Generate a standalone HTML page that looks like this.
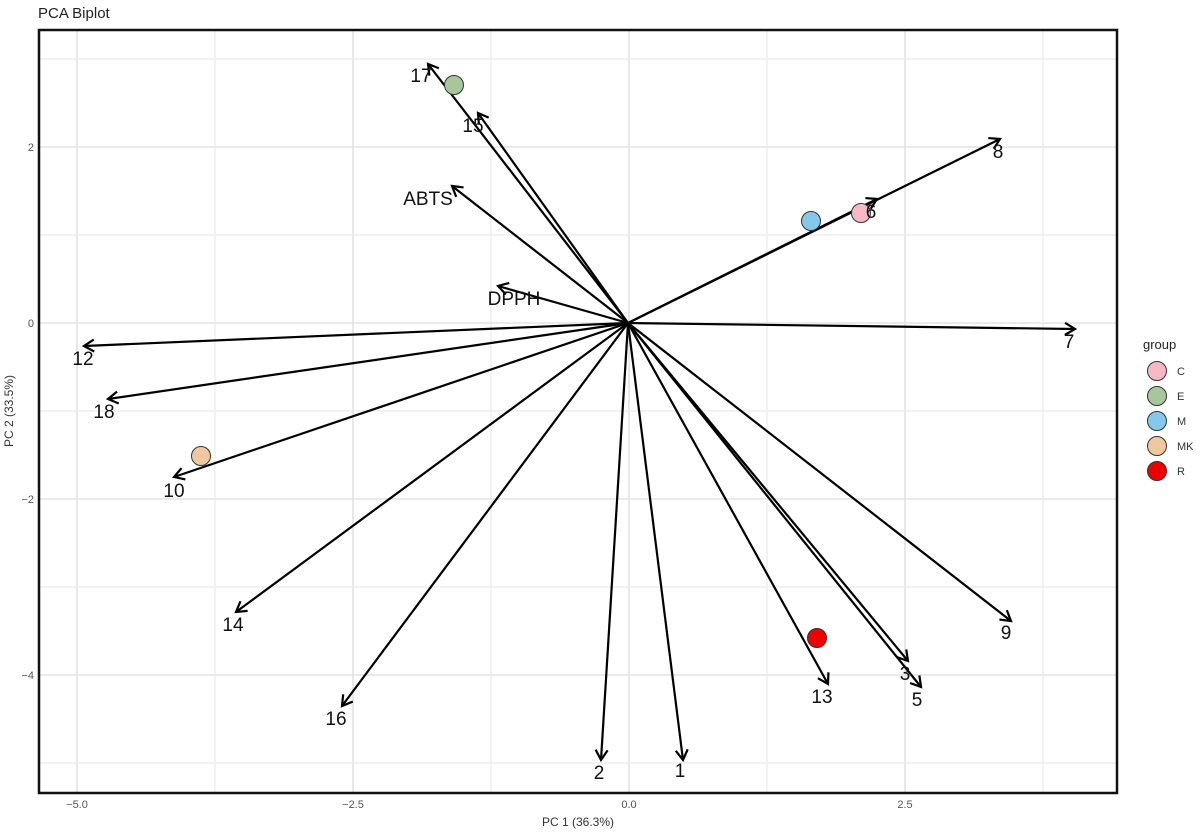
<!DOCTYPE html><html><head><style>body{margin:0;background:#fff}svg{display:block;font-family:"Liberation Sans",sans-serif}</style></head><body>
<svg width="1200" height="832" viewBox="0 0 1200 832">
<defs><marker id="a" markerWidth="14" markerHeight="14" refX="11" refY="7" orient="auto" markerUnits="userSpaceOnUse"><path d="M1,1 L11,7 L1,13" fill="none" stroke="#000" stroke-width="2.2"/></marker></defs>
<text x="38" y="18" font-size="15" fill="#222">PCA Biplot</text>
<g stroke="#ebebeb" stroke-width="1.2">
<line x1="215" y1="30" x2="215" y2="793"/><line x1="491" y1="30" x2="491" y2="793"/><line x1="767" y1="30" x2="767" y2="793"/><line x1="1043" y1="30" x2="1043" y2="793"/>
<line x1="39" y1="59" x2="1117" y2="59"/><line x1="39" y1="235" x2="1117" y2="235"/><line x1="39" y1="411" x2="1117" y2="411"/><line x1="39" y1="587" x2="1117" y2="587"/><line x1="39" y1="763" x2="1117" y2="763"/>
</g>
<g stroke="#e3e3e3" stroke-width="1.6">
<line x1="77" y1="30" x2="77" y2="793"/><line x1="353" y1="30" x2="353" y2="793"/><line x1="629" y1="30" x2="629" y2="793"/><line x1="905" y1="30" x2="905" y2="793"/>
<line x1="39" y1="147" x2="1117" y2="147"/><line x1="39" y1="323" x2="1117" y2="323"/><line x1="39" y1="499" x2="1117" y2="499"/><line x1="39" y1="675" x2="1117" y2="675"/>
</g>
<rect x="39" y="30" width="1078" height="763" fill="none" stroke="#111" stroke-width="2.5"/>
<g stroke="#000" stroke-width="2.2" marker-end="url(#a)">
<line x1="628" y1="323" x2="428" y2="64"/><line x1="628" y1="323" x2="478" y2="113"/><line x1="628" y1="323" x2="1000" y2="139"/><line x1="628" y1="323" x2="877" y2="199"/><line x1="628" y1="323" x2="452" y2="186"/><line x1="628" y1="323" x2="498" y2="286"/><line x1="628" y1="323" x2="1075" y2="329"/><line x1="628" y1="323" x2="84" y2="346"/><line x1="628" y1="323" x2="108" y2="399"/><line x1="628" y1="323" x2="174" y2="477"/><line x1="628" y1="323" x2="236" y2="612"/><line x1="628" y1="323" x2="342" y2="706"/><line x1="628" y1="323" x2="601" y2="760"/><line x1="628" y1="323" x2="683" y2="760"/><line x1="628" y1="323" x2="828" y2="684"/><line x1="628" y1="323" x2="908" y2="661"/><line x1="628" y1="323" x2="921" y2="687"/><line x1="628" y1="323" x2="1011" y2="621"/>
</g>
<g stroke="#333" stroke-width="1">
<circle cx="454" cy="85" r="9.5" fill="#a6c79a"/><circle cx="811" cy="221" r="9.5" fill="#86c8ea"/><circle cx="861" cy="213" r="9.5" fill="#f7b8c6"/><circle cx="201" cy="456" r="9.5" fill="#eec9a0"/><circle cx="817" cy="638" r="9.5" fill="#ee0000"/>
</g>
<g font-size="19" fill="#111" text-anchor="middle">
<text x="421" y="82">17</text><text x="473" y="132">15</text><text x="998" y="158">8</text><text x="871" y="218">6</text><text x="428" y="205">ABTS</text><text x="514" y="305">DPPH</text><text x="1069" y="348">7</text><text x="83" y="365">12</text><text x="104" y="418">18</text><text x="174" y="497">10</text><text x="233" y="631">14</text><text x="336" y="725">16</text><text x="599" y="779">2</text><text x="680" y="777">1</text><text x="822" y="703">13</text><text x="905" y="680">3</text><text x="917" y="706">5</text><text x="1006" y="639">9</text>
</g>
<g font-size="11" fill="#555" text-anchor="middle">
<text x="77" y="808">−5.0</text><text x="353" y="808">−2.5</text><text x="629" y="808">0.0</text><text x="905" y="808">2.5</text>
</g>
<g font-size="11" fill="#555" text-anchor="end">
<text x="34" y="151">2</text><text x="34" y="327">0</text><text x="34" y="503">−2</text><text x="34" y="679">−4</text>
</g>
<text x="578" y="826" font-size="12" fill="#333" text-anchor="middle">PC 1 (36.3%)</text>
<text transform="translate(13,411) rotate(-90)" font-size="12" fill="#333" text-anchor="middle">PC 2 (33.5%)</text>
<text x="1143" y="349" font-size="13" fill="#222">group</text>
<g stroke="#333" stroke-width="1">
<circle cx="1157" cy="371" r="9.5" fill="#f7b8c6"/><circle cx="1157" cy="396" r="9.5" fill="#a6c79a"/><circle cx="1157" cy="421" r="9.5" fill="#86c8ea"/><circle cx="1157" cy="446" r="9.5" fill="#eec9a0"/><circle cx="1157" cy="471" r="9.5" fill="#ee0000"/>
</g>
<g font-size="11" fill="#333">
<text x="1177" y="375">C</text><text x="1177" y="400">E</text><text x="1177" y="425">M</text><text x="1177" y="450">MK</text><text x="1177" y="475">R</text>
</g>
</svg></body></html>
